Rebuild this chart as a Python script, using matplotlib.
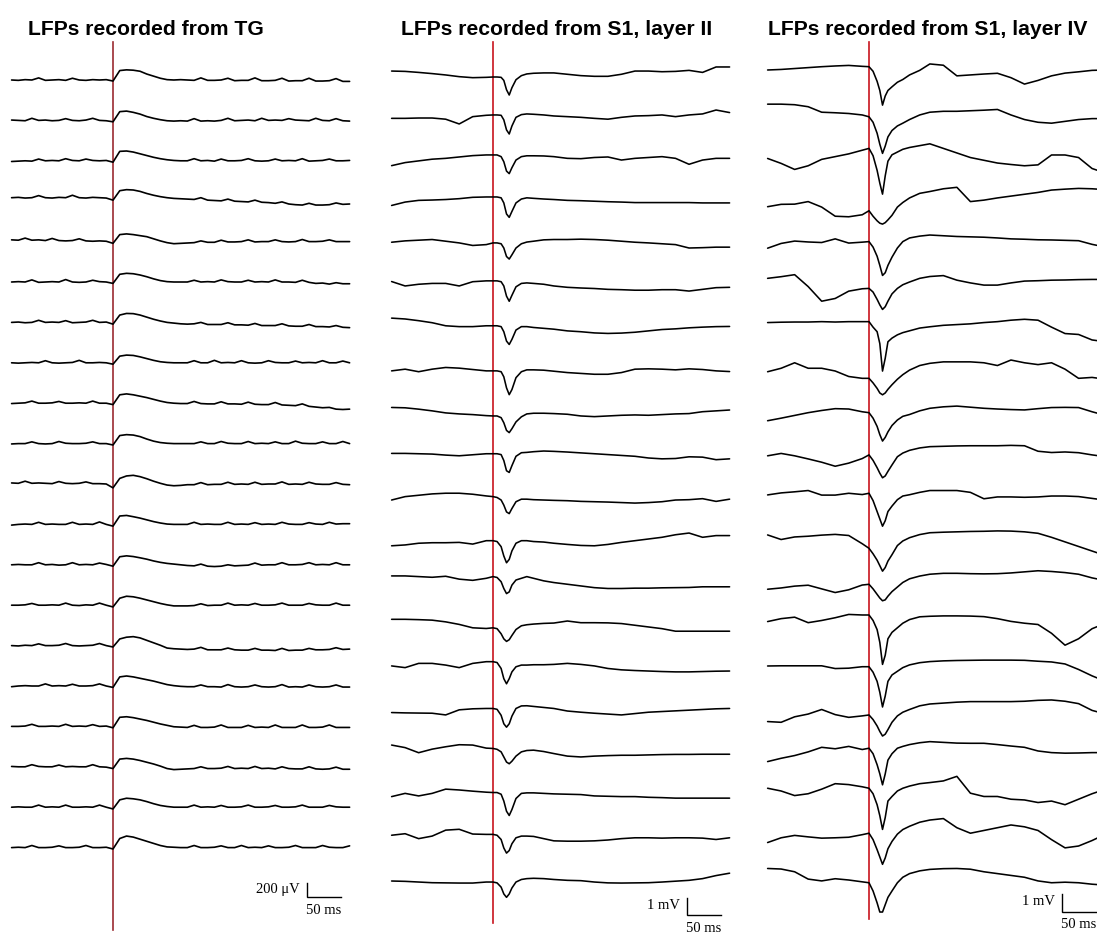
import matplotlib
matplotlib.use("Agg")
import matplotlib.pyplot as plt

# ---------------------------------------------------------------------------
# Data
# ---------------------------------------------------------------------------
titles = ["LFPs recorded from TG",
          "LFPs recorded from S1, layer II",
          "LFPs recorded from S1, layer IV"]

# TG traces (uV), sampled every 10 ms from -150 to 350 ms (stimulus at 0 ms)
tg_time_ms = list(range(-150, 351, 10))
tg_uv = [
    [0, -5, 5, 0, 30, -5, 0, 5, -5, 25, 0, -5, 5, 0, 5,
     -15, 135, 145, 140, 125, 85, 55, 25, 5, 0, 5,
     0, -5, 30, -5, -5, 0, 25, -10, -5, -5, 30, -10, -10, -5, 25, -15, -10, -10, 25, -15, -15, -10, 20, -20, -20],
    [5, 0, -5, 30, 0, 5, -5, 0, 25, 0, -5, 5, 30, 0, -5,
     -20, 125, 133, 115, 90, 55, 30, 10, -5, -10, -5,
     -10, 25, -10, -5, -10, 0, 30, -5, 0, 5, -5, 30, 0, 5, 0, 25, 5, 0, -5, 30, 0, -5, 25, -5, -10],
    [-10, -5, 0, -5, 25, 0, 5, 0, 30, 5, 0, 25, 5, 0, 5,
     -20, 135, 140, 125, 100, 75, 50, 30, 15, 5, 0,
     0, 30, 0, 5, -5, 25, 0, 0, 5, 30, 0, -5, 0, 25, 0, 5, 0, 30, -5, 0, 5, 25, 0, 0, 5],
    [50, 55, 45, 50, 80, 50, 45, 55, 50, 85, 50, 45, 55, 50, 45,
     15, 150, 165, 160, 140, 110, 85, 65, 50, 40, 35,
     30, 25, 50, 15, 10, 5, 30, 0, -5, -10, 15, -15, -20, -30, -10, -40, -50, -55, -30, -55, -55, -50, -25, -45, -40],
    [25, 20, 50, 20, 25, 15, 45, 15, 10, 15, 40, 10, 5, 10, 5,
     -25, 100, 110, 100, 85, 70, 40, 10, -15, -30, -25,
     -20, -15, 10, -10, -10, 20, -5, -5, 0, 25, -5, 0, 0, 25, 0, -5, 0, 30, 0, 0, 5, 25, 0, 0, 0],
    [0, 5, 0, 30, -5, 0, 5, 0, 35, 0, -5, 0, 25, 5, 0,
     -20, 110, 124, 118, 100, 75, 45, 20, 5, 0, 0,
     0, 25, 0, 5, 0, 30, 5, 0, 0, 25, 0, 5, 0, 30, 0, 0, -5, 25, -5, -20, -15, -30, -10, -25, -25],
    [0, 5, -5, 0, 30, 0, 5, 0, 25, -5, 0, 5, 30, 0, 5,
     -25, 105, 128, 125, 105, 75, 45, 20, 0, -10, -20,
     -25, -20, 0, -30, -30, -30, -5, -35, -35, -40, -15, -45, -45, -45, -20, -50, -55, -55, -30, -60, -60, -65, -45, -70, -75],
    [0, -5, 0, 5, 0, 30, 0, -5, 0, 5, 35, 0, 0, 5, 0,
     -20, 95, 110, 105, 85, 60, 35, 15, 5, 0, 0,
     0, 30, 0, 0, 35, 0, 5, 0, 30, 0, -5, 0, 30, 5, 0, 0, 25, 0, 5, 0, 30, 0, 0, 25, 0],
    [-5, 0, 5, 30, 0, 0, 5, 25, 0, 0, 5, 0, 30, 0, 0,
     -20, 120, 133, 120, 100, 80, 55, 30, 10, 0, -5,
     -5, 25, -5, -10, -10, 20, -10, -10, -15, 15, -15, -20, -20, 10, -25, -30, -35, -10, -45, -55, -65, -60, -85, -90, -85],
    [-5, 0, 0, 25, 0, -5, 0, 30, 5, 0, 0, 5, 25, 0, 0,
     -20, 115, 128, 122, 100, 65, 35, 15, 5, 0, 0,
     0, 0, 25, 0, 0, 30, 5, 0, 0, 30, 0, 5, 0, 25, 0, 0, 35, 5, 0, 0, 25, 0, 0, 30, 0],
    [15, 10, 40, 10, 15, 10, 5, 35, 10, 5, 10, 30, 5, 5, 0,
     -55, 80, 115, 124, 105, 75, 40, 10, -15, -25, -20,
     -10, -10, 20, -10, -5, -5, 25, -5, 0, -5, 25, -5, 0, 0, 30, -5, 0, -5, 25, 0, -5, -5, 20, -5, -10],
    [-10, 0, 5, 0, 30, 0, 5, 0, 0, 30, 0, 5, 0, 35, 0,
     -25, 120, 128, 110, 90, 65, 40, 20, 5, 0, 0,
     0, 30, 0, 5, 0, 0, 30, 0, 5, 0, 25, 0, 5, 0, 30, 5, 0, 0, 25, 5, 0, 30, 5, 10, 10],
    [0, 5, 0, 0, 30, 0, 5, -5, 0, 30, 0, 5, 0, 25, 5,
     -20, 115, 128, 118, 100, 80, 55, 35, 20, 10, 0,
     -10, -15, 10, -20, -25, -20, 0, -15, -10, -5, 25, -5, 0, 0, 30, 0, 0, 5, 30, 0, 5, 0, 30, 0, 0],
    [0, 0, 5, 25, 0, 0, 5, 0, 30, 0, -5, 5, 0, 30, 0,
     -25, 100, 128, 120, 100, 75, 50, 25, 5, -10, -10,
     -10, -5, 20, -5, 0, 0, 30, 0, 5, 0, 25, 0, 0, 5, 30, 0, 0, 0, 25, 5, 0, 0, 30, 0, 0],
    [0, -5, 5, 0, 25, 0, 0, 5, 30, 0, -5, 0, 5, 30, 0,
     -20, 95, 120, 128, 110, 75, 40, 5, -35, -45, -50,
     -55, -50, -25, -60, -60, -60, -35, -60, -65, -65, -40, -65, -65, -70, -40, -70, -65, -65, -40, -60, -60, -55, -30, -55, -50],
    [-10, 0, 5, 0, 0, 30, 0, 5, 0, 25, 0, 0, 5, 30, 0,
     -20, 130, 143, 130, 110, 90, 70, 45, 20, 5, -5,
     -10, -10, 15, -10, -10, -15, 20, -10, -15, -10, 15, -10, -15, -10, 20, -15, -10, -15, 15, -10, -15, -10, 15, -15, -15],
    [0, 0, 5, 30, 0, 0, 5, 0, 30, 0, 5, 0, 25, 0, 5,
     -20, 130, 138, 125, 105, 85, 60, 35, 15, -5, -10,
     -15, 15, -15, -15, -10, 20, -15, -15, -15, 15, -15, -10, -15, 20, -15, -15, -15, 20, -15, -15, -10, 20, -15, -15, -15],
    [5, 0, 0, 30, 5, 0, 0, 25, 0, 5, 0, 0, 30, 0, -5,
     -25, 110, 120, 110, 90, 65, 40, 10, -25, -40, -35,
     -30, -25, 0, -25, -25, -20, 5, -25, -20, -25, 5, -25, -20, -30, 0, -25, -30, -30, 0, -30, -35, -30, -5, -35, -35],
    [0, 5, 0, 0, 30, 0, 5, 0, 30, 0, 0, 5, 0, 30, 0,
     -25, 105, 128, 120, 105, 80, 50, 25, 10, 0, 0,
     0, 30, 0, 5, 0, 25, 0, 0, 5, 30, 0, 0, 5, 25, 0, 0, 5, 30, 0, 0, 0, 25, 5, 0, 0],
    [0, 5, 0, 30, 0, 0, 5, 25, 0, 0, 5, 30, 0, 0, 5,
     -20, 130, 165, 150, 120, 90, 60, 30, 10, 5, 0,
     0, 30, 0, 0, 5, 25, 0, 0, 30, 0, 5, 0, 25, 0, 0, 5, 30, 0, 0, 0, 30, 5, 0, 0, 25],
]

# S1 traces (mV), sampled on a grid that is denser around the evoked response
s1_time_ms = [-150, -130, -110, -90, -70, -50, -30, -10,
              0, 6, 12, 16, 20, 24, 28, 34, 42, 50, 60, 75, 90,
              110, 130, 150, 170, 190, 210, 230, 250, 270, 290, 310, 330, 350]

layer2_mv = [
    [0.35, 0.33, 0.27, 0.2, 0.12, 0.02, -0.04, -0.02,
     0, 0, -0.02, -0.2, -0.75, -1.06, -0.63, -0.16, 0.08, 0.18, 0.22, 0.24, 0.24,
     0.16, 0.08, 0.04, 0.04, 0.16, 0.35, 0.35, 0.31, 0.33, 0.39, 0.27, 0.59, 0.59],
    [-0.2, -0.2, -0.18, -0.18, -0.25, -0.53, -0.1, -0.02,
     0, 0, -0.02, -0.29, -0.88, -1.12, -0.65, -0.14, 0.02, 0.06, 0.04, 0, -0.06,
     -0.1, -0.14, -0.2, -0.25, -0.14, -0.06, -0.04, 0, -0.1, 0, 0.06, 0.29, 0.14],
    [-0.63, -0.45, -0.35, -0.25, -0.2, -0.12, -0.04, 0,
     0, 0, -0.1, -0.4, -0.95, -1.1, -0.75, -0.3, -0.1, -0.05, -0.05, -0.06, -0.1,
     -0.2, -0.22, -0.15, -0.12, -0.3, -0.2, -0.15, -0.1, -0.2, -0.55, -0.3, -0.2, -0.2],
    [-0.5, -0.3, -0.2, -0.18, -0.15, -0.1, -0.02, 0,
     0, 0, -0.05, -0.35, -1.0, -1.2, -0.85, -0.35, -0.12, -0.05, -0.08, -0.12, -0.15,
     -0.2, -0.22, -0.25, -0.28, -0.3, -0.33, -0.33, -0.33, -0.33, -0.33, -0.35, -0.35, -0.35],
    [0.04, 0.12, 0.16, 0.2, 0.1, 0.0, -0.15, -0.1,
     0, 0, -0.05, -0.3, -0.8, -0.95, -0.7, -0.3, -0.05, 0.05, 0.1, 0.18, 0.2,
     0.2, 0.22, 0.2, 0.16, 0.1, 0.04, 0, -0.05, -0.1, -0.3, -0.28, -0.25, -0.25],
    [-0.04, -0.3, -0.2, -0.15, -0.15, -0.3, -0.05, 0,
     0, 0, -0.05, -0.3, -0.9, -1.2, -0.85, -0.35, -0.15, -0.12, -0.15, -0.2, -0.3,
     -0.38, -0.42, -0.45, -0.5, -0.52, -0.55, -0.55, -0.52, -0.52, -0.6, -0.5, -0.4, -0.38],
    [0.45, 0.4, 0.3, 0.18, 0.0, -0.05, -0.05, 0,
     0, 0, -0.05, -0.35, -0.9, -1.1, -0.8, -0.25, -0.05, -0.05, -0.1, -0.15, -0.2,
     -0.3, -0.35, -0.42, -0.45, -0.43, -0.38, -0.3, -0.22, -0.18, -0.12, -0.08, -0.05, -0.04],
    [0, 0.1, -0.05, 0.1, 0.2, 0.16, 0.08, 0,
     0, 0, -0.05, -0.35, -1.0, -1.4, -1.1, -0.4, -0.05, 0.06, 0.06, 0.04, -0.02,
     -0.1, -0.15, -0.2, -0.2, -0.1, 0.1, 0.12, 0.1, 0.06, 0.12, 0.08, 0.0, -0.04],
    [0.5, 0.48, 0.4, 0.3, 0.18, 0.12, 0.08, 0.02,
     0, 0, -0.1, -0.4, -0.85, -0.98, -0.75, -0.35, -0.05, 0.12, 0.16, 0.16, 0.14,
     0.1, 0.0, -0.04, 0.0, 0.04, 0.06, 0.04, 0.08, 0.12, 0.14, 0.25, 0.3, 0.35],
    [0.02, 0.02, 0, -0.02, -0.08, -0.12, -0.06, 0,
     0, 0, -0.05, -0.4, -1.0, -1.1, -0.7, -0.15, 0.06, 0.08, 0.12, 0.16, 0.14,
     0.1, 0.05, 0, -0.05, -0.1, -0.15, -0.25, -0.3, -0.28, -0.18, -0.2, -0.35, -0.3],
    [-0.2, 0.0, 0.08, 0.16, 0.2, 0.2, 0.14, 0.04,
     0, -0.05, -0.2, -0.5, -0.9, -1.0, -0.7, -0.3, -0.15, -0.15, -0.18, -0.2, -0.22,
     -0.24, -0.28, -0.3, -0.32, -0.35, -0.38, -0.35, -0.3, -0.2, -0.18, -0.12, -0.28, -0.15],
    [-0.3, -0.25, -0.15, -0.12, -0.12, -0.1, -0.2, 0,
     0, -0.05, -0.35, -0.9, -1.3, -1.1, -0.6, -0.15, 0.0, 0.0, -0.05, -0.08, -0.15,
     -0.22, -0.28, -0.3, -0.22, -0.1, 0.0, 0.1, 0.2, 0.35, 0.45, 0.2, 0.3, 0.3],
    [0.04, 0.04, 0.0, -0.04, 0.02, -0.15, -0.22, -0.1,
     0, -0.05, -0.3, -0.7, -1.0, -0.9, -0.5, -0.2, -0.1, 0.0, -0.1, -0.25, -0.35,
     -0.45, -0.55, -0.65, -0.7, -0.7, -0.68, -0.68, -0.66, -0.65, -0.64, -0.6, -0.6, -0.6],
    [0.5, 0.5, 0.48, 0.45, 0.35, 0.2, 0.0, -0.04,
     0, -0.05, -0.35, -0.65, -0.8, -0.7, -0.45, -0.1, 0.12, 0.18, 0.22, 0.26, 0.28,
     0.4, 0.3, 0.3, 0.29, 0.25, 0.15, 0.05, -0.05, -0.2, -0.2, -0.2, -0.2, -0.2],
    [-0.25, -0.35, -0.1, -0.1, -0.2, -0.35, -0.1, 0,
     0, -0.05, -0.4, -1.0, -1.3, -1.0, -0.6, -0.3, -0.2, -0.2, -0.18, -0.18, -0.16,
     -0.1, -0.16, -0.25, -0.4, -0.48, -0.52, -0.55, -0.58, -0.6, -0.6, -0.58, -0.56, -0.55],
    [-0.24, -0.26, -0.27, -0.28, -0.38, -0.08, -0.02, 0,
     0, -0.05, -0.4, -0.9, -1.1, -0.9, -0.45, 0.0, 0.15, 0.16, 0.12, 0.06, 0.0,
     -0.15, -0.22, -0.28, -0.33, -0.38, -0.3, -0.22, -0.18, -0.14, -0.1, -0.06, -0.02, 0.0],
    [0.2, 0.05, -0.25, -0.04, 0.1, 0.22, 0.2, 0.02,
     0, -0.05, -0.2, -0.5, -0.8, -0.9, -0.75, -0.45, -0.2, -0.12, -0.1, -0.18, -0.3,
     -0.45, -0.5, -0.45, -0.42, -0.4, -0.4, -0.38, -0.36, -0.35, -0.35, -0.34, -0.34, -0.34],
    [-0.24, -0.05, -0.2, -0.05, 0.2, 0.15, 0.08, 0.02,
     0, 0, -0.1, -0.5, -1.1, -1.35, -1.0, -0.35, -0.05, -0.02, -0.02, -0.05, -0.08,
     -0.1, -0.12, -0.2, -0.22, -0.24, -0.24, -0.28, -0.3, -0.33, -0.33, -0.33, -0.33, -0.33],
    [-0.05, 0.04, -0.25, -0.1, 0.25, 0.3, 0.02, 0,
     0, -0.05, -0.3, -0.8, -1.1, -0.95, -0.55, -0.2, -0.1, -0.1, -0.12, -0.25, -0.38,
     -0.4, -0.4, -0.38, -0.33, -0.25, -0.2, -0.2, -0.22, -0.2, -0.2, -0.22, -0.3, -0.2],
    [0.06, 0.04, 0.0, -0.04, -0.05, -0.06, -0.06, 0,
     0, -0.05, -0.3, -0.7, -0.9, -0.7, -0.35, 0.0, 0.15, 0.2, 0.22, 0.2, 0.15,
     0.1, 0.08, 0.0, -0.05, -0.06, -0.05, -0.04, 0.0, 0.05, 0.1, 0.2, 0.38, 0.52],
]
# DC level of each layer II recording (mV)
layer2_dc_mv = [0, 0.26, 0.4, 0.42, 0.21, 0.47, 0.32, 0.16, 0, 0.27,
                0.24, 0.14, 0.52, 0, 0.5, 0.24, 0.38, 0.28, 0.31, 0]

layer4_mv = [
    [-0.18, -0.15, -0.1, -0.05, 0.0, 0.04, 0.07, 0.02,
     0, -0.25, -0.8, -1.3, -2.1, -1.6, -1.3, -1.1, -0.85, -0.7, -0.45, -0.2, 0.15,
     0.08, -0.5, -0.45, -0.4, -0.36, -0.6, -0.95, -0.75, -0.5, -0.35, -0.28, -0.2, -0.18],
    [0.69, 0.69, 0.66, 0.55, 0.25, 0.22, 0.18, 0.1,
     0, -0.3, -0.9, -1.5, -2.0, -1.6, -1.1, -0.75, -0.5, -0.35, -0.15, 0.1, 0.25,
     0.3, 0.3, 0.33, 0.36, 0.4, 0.1, -0.15, -0.3, -0.35, -0.25, -0.15, -0.1, -0.1],
    [-0.55, -0.82, -1.15, -0.95, -0.6, -0.45, -0.3, -0.1,
     0, -0.4, -1.2, -1.9, -2.5, -1.5, -0.7, -0.35, -0.2, -0.05, 0.05, 0.15, 0.25,
     0.0, -0.25, -0.5, -0.65, -0.8, -0.88, -0.95, -0.9, -0.36, -0.36, -0.5, -1.1, -1.35],
    [0.22, 0.35, 0.36, 0.5, 0.2, -0.3, -0.33, -0.22,
     0, -0.3, -0.55, -0.68, -0.73, -0.65, -0.5, -0.25, 0.2, 0.45, 0.7, 0.95, 1.05,
     1.2, 1.28, 0.5, 0.58, 0.7, 0.8, 0.9, 1.0, 1.13, 1.18, 1.22, 1.2, 1.15],
    [-0.36, -0.1, 0.03, -0.02, -0.05, 0.15, -0.08, -0.03,
     0, -0.3, -0.8, -1.3, -1.85, -1.7, -1.3, -0.85, -0.35, 0.0, 0.2, 0.3, 0.36,
     0.32, 0.28, 0.26, 0.24, 0.2, 0.15, 0.13, 0.1, 0.09, 0.07, 0.05, -0.15, -0.3],
    [0.55, 0.64, 0.75, 0.1, -0.7, -0.55, -0.15, -0.02,
     0, -0.2, -0.6, -0.9, -1.15, -1.0, -0.7, -0.3, 0.0, 0.2, 0.35, 0.55, 0.65,
     0.7, 0.45, 0.3, 0.18, 0.18, 0.3, 0.4, 0.42, 0.45, 0.46, 0.48, 0.49, 0.49],
    [-0.05, -0.03, -0.02, -0.02, 0.0, -0.02, 0.0, 0.0,
     0, -0.3, -0.55, -1.2, -2.7, -2.0, -1.1, -0.9, -0.72, -0.6, -0.5, -0.35, -0.28,
     -0.2, -0.16, -0.12, -0.05, 0.0, 0.08, 0.13, 0.08, -0.3, -0.65, -0.7, -1.0, -1.1],
    [0.36, 0.55, 0.85, 0.55, 0.55, 0.4, 0.1, 0.0,
     0, -0.25, -0.55, -0.8, -0.9, -0.8, -0.6, -0.35, -0.05, 0.2, 0.45, 0.7, 0.82,
     0.9, 0.9, 0.9, 0.85, 0.7, 1.0, 0.85, 0.75, 0.85, 0.5, 0.0, 0.05, -0.05],
    [-0.44, -0.3, -0.15, 0.0, 0.12, 0.22, 0.2, 0.05,
     0, -0.3, -0.75, -1.2, -1.55, -1.35, -1.05, -0.7, -0.4, -0.2, -0.1, 0.1, 0.24,
     0.32, 0.36, 0.3, 0.24, 0.2, 0.17, 0.15, 0.22, 0.28, 0.29, 0.28, 0.05, -0.15],
    [-0.05, 0.08, -0.05, -0.22, -0.4, -0.62, -0.45, -0.2,
     0, -0.3, -0.7, -1.0, -1.25, -1.15, -0.9, -0.55, -0.1, 0.1, 0.25, 0.38, 0.45,
     0.47, 0.49, 0.5, 0.5, 0.5, 0.52, 0.5, 0.2, 0.13, 0.16, 0.12, 0.0, -0.1],
    [-0.09, 0.02, 0.08, 0.15, -0.1, -0.1, 0.0, -0.07,
     0, -0.4, -1.0, -1.4, -1.8, -1.5, -1.0, -0.7, -0.35, -0.15, -0.08, 0.05, 0.15,
     0.15, 0.15, 0.05, -0.3, -0.2, -0.2, -0.22, -0.2, -0.15, -0.15, -0.18, -0.28, -0.38],
    [0.73, 0.48, 0.62, 0.66, 0.72, 0.76, 0.7, 0.25,
     0, -0.3, -0.65, -0.95, -1.25, -1.05, -0.7, -0.35, 0.15, 0.4, 0.58, 0.75, 0.85,
     0.88, 0.9, 0.92, 0.93, 0.95, 0.94, 0.9, 0.82, 0.6, 0.35, 0.1, -0.15, -0.4],
    [-0.27, -0.2, -0.1, -0.05, -0.25, -0.45, -0.3, -0.04,
     0, -0.25, -0.55, -0.75, -0.9, -0.85, -0.65, -0.4, -0.15, 0.1, 0.3, 0.45, 0.55,
     0.6, 0.6, 0.58, 0.57, 0.58, 0.62, 0.68, 0.74, 0.7, 0.64, 0.55, 0.35, 0.2],
    [-0.36, -0.2, -0.12, -0.42, -0.3, -0.15, 0.03, 0.0,
     0, -0.3, -0.8, -1.5, -2.7, -2.2, -1.3, -0.95, -0.7, -0.45, -0.25, -0.1, -0.07,
     -0.05, -0.05, -0.06, -0.09, -0.2, -0.35, -0.45, -0.52, -1.0, -1.65, -1.3, -0.75, -0.45],
    [0.04, 0.05, 0.05, 0.05, 0.05, -0.1, -0.08, 0.0,
     0, -0.3, -0.8, -1.4, -2.2, -1.6, -0.8, -0.45, -0.25, -0.05, 0.1, 0.22, 0.28,
     0.32, 0.34, 0.35, 0.36, 0.36, 0.36, 0.35, 0.3, 0.26, 0.15, -0.15, -0.5, -0.8],
    [-0.36, -0.4, -0.1, 0.05, 0.3, 0.02, -0.13, -0.05,
     0, -0.25, -0.6, -0.9, -1.15, -1.05, -0.8, -0.4, -0.05, 0.15, 0.3, 0.5, 0.6,
     0.65, 0.7, 0.73, 0.73, 0.73, 0.73, 0.75, 0.8, 0.82, 0.75, 0.62, 0.25, 0.05],
    [-0.73, -0.55, -0.4, -0.2, 0.05, -0.03, 0.1, -0.07,
     0, -0.3, -0.9, -1.4, -2.0, -1.4, -0.65, -0.3, 0.0, 0.1, 0.2, 0.3, 0.36,
     0.32, 0.28, 0.27, 0.27, 0.2, 0.12, 0.05, -0.15, -0.24, -0.27, -0.26, -0.24, -0.24],
    [0.0, -0.15, -0.4, -0.3, -0.05, 0.25, 0.2, 0.08,
     0, -0.3, -0.9, -1.5, -2.25, -1.6, -0.7, -0.45, -0.15, 0.0, 0.12, 0.25, 0.31,
     0.4, 0.65, -0.27, -0.45, -0.45, -0.6, -0.64, -0.78, -0.7, -0.9, -0.6, -0.3, -0.05],
    [-0.51, -0.25, -0.12, -0.2, -0.27, -0.25, -0.22, -0.08,
     0, -0.35, -0.9, -1.3, -1.7, -1.35, -0.85, -0.45, -0.05, 0.2, 0.38, 0.6, 0.72,
     0.8, 0.3, 0.0, 0.15, 0.3, 0.45, 0.35, 0.15, -0.35, -0.8, -0.7, -0.4, -0.05],
    [0.78, 0.75, 0.6, 0.2, 0.1, 0.22, 0.15, 0.05,
     0, -0.45, -1.1, -1.6, -1.6, -1.2, -0.8, -0.45, 0.0, 0.3, 0.5, 0.65, 0.73,
     0.77, 0.78, 0.74, 0.6, 0.5, 0.4, 0.3, 0.1, 0.0, 0.03, 0.0, -0.08, -0.13],
]
# DC level of each layer IV recording (mV)
layer4_dc_mv = [0, -0.39, 0.23, -0.83, -0.17, -0.38, 0.15, -0.6, -0.13, -0.09,
                0.16, -0.5, -0.12, 0.55, 0.07, -0.22, 0.31, 0.47, 0.36, 0]

scale_labels = ["200 \u03bcV", "1 mV", "1 mV"]
scale_amplitudes = [200, 1, 1]   # uV for TG, mV for S1
scale_time_ms = 50

# ---------------------------------------------------------------------------
# Layout (pixels) and styling
# ---------------------------------------------------------------------------
W, H = 1097, 933
PX_PER_MS = 0.676

panels = [
    dict(time=tg_time_ms, traces=tg_uv, dc=[0] * 20, x_stim=113, y_first=80.0,
         gap=40.4, px_per_unit=0.07, stim_color="#9b2b31", stim_span=(42, 930),
         title_x=28, bar=(307, 897), lw=1.2),
    dict(time=s1_time_ms, traces=layer2_mv, dc=layer2_dc_mv, x_stim=493, y_first=77.0,
         gap=42.37, px_per_unit=17.0, stim_color="#c8141e", stim_span=(42, 923),
         title_x=401, bar=(687, 915), lw=1.15),
    dict(time=s1_time_ms, traces=layer4_mv, dc=layer4_dc_mv, x_stim=869, y_first=66.7,
         gap=42.95, px_per_unit=18.3, stim_color="#c8141e", stim_span=(42, 919),
         title_x=768, bar=(1062, 912), lw=1.15),
]

fig = plt.figure(figsize=(W / 100, H / 100), dpi=100)
fig.patch.set_facecolor("white")

for k, p in enumerate(panels):
    ax = fig.add_axes([0, 0, 1, 1], facecolor="none")
    ppu = p["px_per_unit"]
    ax.set_xlim(-p["x_stim"] / PX_PER_MS, (W - p["x_stim"]) / PX_PER_MS)
    ax.set_ylim((p["y_first"] - H) / ppu, p["y_first"] / ppu)
    ax.axis("off")

    def y_of(px, p=p, ppu=ppu):
        return (p["y_first"] - px) / ppu

    def x_of(px, p=p):
        return (px - p["x_stim"]) / PX_PER_MS

    step = p["gap"] / ppu
    for i, trace in enumerate(p["traces"]):
        ys = [v + p["dc"][i] - i * step for v in trace]
        ax.plot(p["time"], ys, color="black", lw=p["lw"],
                solid_joinstyle="round", solid_capstyle="round", zorder=3)

    # stimulus onset marker
    top, bottom = p["stim_span"]
    ax.plot([0, 0], [y_of(top), y_of(bottom)], color=p["stim_color"], lw=1.2, zorder=2)

    # scale bar
    bx, by = p["bar"]
    t0, v0 = x_of(bx), y_of(by)
    amp = scale_amplitudes[k]
    ax.plot([t0, t0, t0 + scale_time_ms], [v0 + amp, v0, v0],
            color="black", lw=1.0, solid_joinstyle="miter", zorder=3)
    ax.text(x_of(bx - 7), v0 + amp * 0.55, scale_labels[k], ha="right", va="center",
            fontsize=10.5, family="Liberation Serif", color="black")
    ax.text(t0 + scale_time_ms / 2, y_of(by + 13), f"{scale_time_ms} ms",
            ha="center", va="center", fontsize=10.5, family="Liberation Serif",
            color="black")

    fig.text(p["title_x"] / W, 1 - 35 / H, titles[k], ha="left", va="baseline",
             fontsize=15.2, fontweight="bold", family="Liberation Sans")

fig.savefig("out.png", dpi=100, facecolor="white")
